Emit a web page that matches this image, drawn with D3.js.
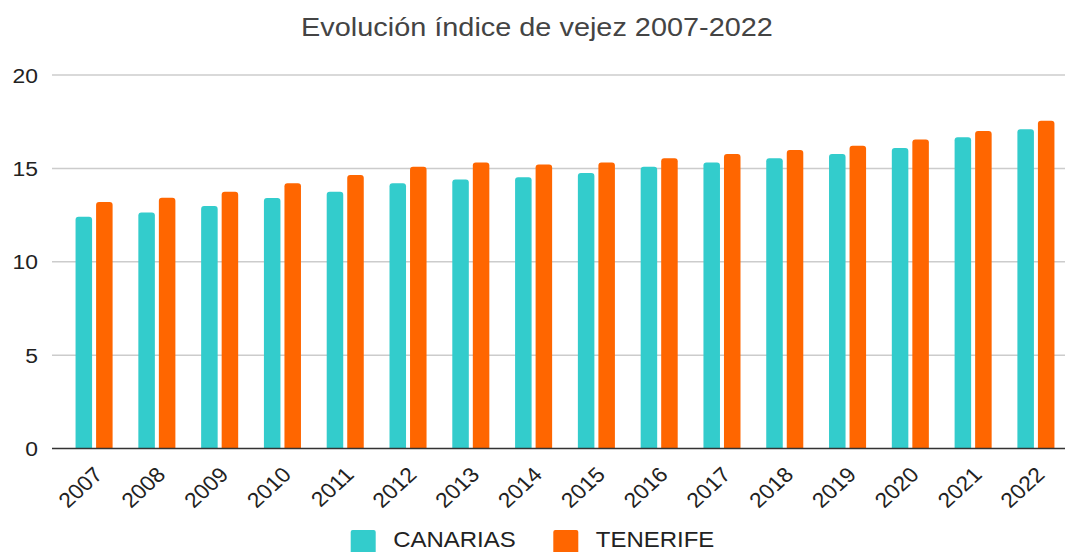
<!DOCTYPE html>
<html>
<head>
<meta charset="utf-8">
<script src="https://cdn.jsdelivr.net/npm/d3@7"></script>
<style>
  body { margin: 0; background: #fff; }
  svg { display: block; font-family: "Liberation Sans", Arial, sans-serif; }
</style>
</head>
<body>
<svg id="chart" width="1065" height="552"></svg>
<script>
const years = ["2007", "2008", "2009", "2010", "2011", "2012", "2013", "2014",
  "2015", "2016", "2017", "2018", "2019", "2020", "2021", "2022"];
const canarias = [12.41, 12.64, 12.98, 13.41, 13.75, 14.2, 14.41, 14.52,
  14.75, 15.09, 15.32, 15.54, 15.77, 16.09, 16.66, 17.1];
const tenerife = [13.2, 13.43, 13.75, 14.2, 14.64, 15.09, 15.32, 15.21,
  15.32, 15.54, 15.77, 15.98, 16.21, 16.55, 17.0, 17.55];
const seriesNames = ["CANARIAS", "TENERIFE"];
const yTicks = [0, 5, 10, 15, 20];

const colors = ["#33cccc", "#ff6600"];
const stretch = 1.09; // text in the picture is a bit wider than tall

const svg = d3.select("#chart");
const width = +svg.attr("width");

const rows = years.map((y, i) => ({ year: y, values: [canarias[i], tenerife[i]] }));

const yScale = d3.scaleLinear().domain([0, 20]).range([448.5, 75]);

const x0 = d3.scaleBand()
  .domain(years)
  .range([63, 1067])
  .paddingInner(0.41)
  .paddingOuter(0.2);

const x1 = d3.scaleBand()
  .domain(seriesNames)
  .range([0, x0.bandwidth()])
  .paddingInner(0.195);

// title
svg.append("text")
  .attr("transform", `translate(537, 35.5) scale(${stretch},1)`)
  .attr("text-anchor", "middle")
  .attr("font-size", 26.5)
  .attr("fill", "#444")
  .text("Evolución índice de vejez 2007-2022");

// gridlines
svg.append("g")
  .selectAll("line")
  .data(yTicks.filter(d => d > 0))
  .enter()
  .append("line")
  .attr("x1", 52)
  .attr("x2", width)
  .attr("y1", d => yScale(d))
  .attr("y2", d => yScale(d))
  .attr("stroke", "#cccccc")
  .attr("stroke-width", 1.5);

// y labels
svg.append("g")
  .selectAll("text")
  .data(yTicks)
  .enter()
  .append("text")
  .attr("transform", d => `translate(38, ${yScale(d)}) scale(${stretch},1)`)
  .attr("dy", "0.36em")
  .attr("text-anchor", "end")
  .attr("font-size", 21)
  .attr("fill", "#222")
  .text(d => d);

// bars with rounded tops
function topRounded(x, y, w, h, r) {
  r = Math.min(r, w / 2, h);
  return `M${x},${y + h}V${y + r}Q${x},${y} ${x + r},${y}H${x + w - r}Q${x + w},${y} ${x + w},${y + r}V${y + h}Z`;
}

const groups = svg.append("g")
  .selectAll("g")
  .data(rows)
  .enter()
  .append("g")
  .attr("transform", d => `translate(${x0(d.year)},0)`);

groups.selectAll("path")
  .data(d => d.values.map((v, i) => ({ key: seriesNames[i], value: v, i })))
  .enter()
  .append("path")
  .attr("fill", d => colors[d.i])
  .attr("d", d => topRounded(x1(d.key), yScale(d.value), x1.bandwidth(), yScale(0) - yScale(d.value), 3));

// baseline
svg.append("line")
  .attr("x1", 52)
  .attr("x2", width)
  .attr("y1", yScale(0))
  .attr("y2", yScale(0))
  .attr("stroke", "#333")
  .attr("stroke-width", 1.5);

// x labels
svg.append("g")
  .selectAll("text")
  .data(years)
  .enter()
  .append("text")
  .attr("transform", d => `translate(${x0(d) + x0.bandwidth() / 2 + 10}, 476) scale(${stretch},1) rotate(-45)`)
  .attr("text-anchor", "end")
  .attr("font-size", 21)
  .attr("fill", "#222")
  .text(d => d);

// legend
const legendX = [350.7, 553.3];
const legend = svg.append("g");
seriesNames.forEach((name, i) => {
  legend.append("rect")
    .attr("x", legendX[i])
    .attr("y", 530)
    .attr("width", 25)
    .attr("height", 25)
    .attr("rx", 2)
    .attr("fill", colors[i]);
  legend.append("text")
    .attr("transform", `translate(${legendX[i] + 42.5}, 547.3) scale(${stretch},1)`)
    .attr("font-size", 22)
    .attr("fill", "#222")
    .text(name);
});
</script>
</body>
</html>
